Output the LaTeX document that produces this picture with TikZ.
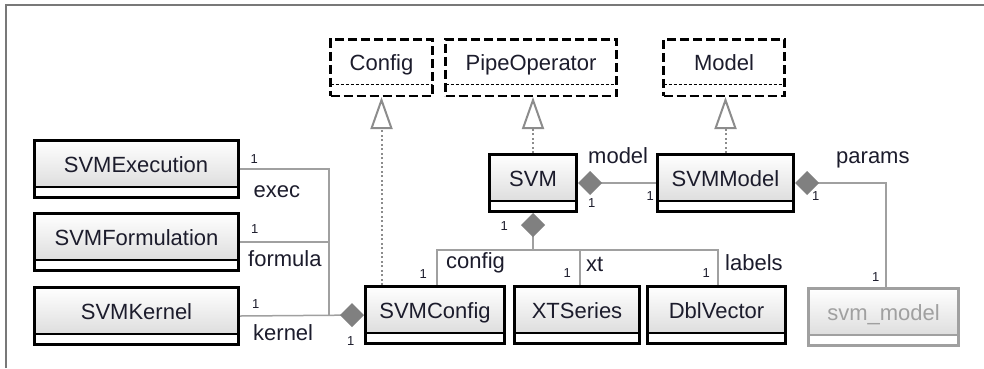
\documentclass[tikz,border=0pt]{standalone}
\usepackage{fontspec}
\setmainfont{Liberation Sans}
\usepackage{tikz}
\usetikzlibrary{arrows.meta}
\usepackage{xcolor}
\definecolor{txt}{RGB}{28,28,44}
\definecolor{lgray}{RGB}{160,160,160}
\definecolor{dgray}{RGB}{140,140,140}
\definecolor{dmd}{RGB}{128,128,128}
\definecolor{frm}{RGB}{120,120,120}
\newcommand{\clsfont}{\fontsize{22}{22}\selectfont}
\newcommand{\multfont}{\fontsize{13}{13}\selectfont}

\begin{document}
\begin{tikzpicture}[x=1pt,y=-1pt,line join=miter,
  cls/.style={draw=black,line width=3pt,inner sep=0pt,text height=31.5pt,text depth=25.5pt,
    top color=white,bottom color=black!16,font=\clsfont,text=txt,
    path picture={
      \fill[white] ([yshift=10.5pt]path picture bounding box.south west) rectangle (path picture bounding box.south east);
      \draw[line width=2pt] ([yshift=10.5pt]path picture bounding box.south west) -- ([yshift=10.5pt]path picture bounding box.south east);
    }},
  ext/.style={cls,draw=lgray,text=lgray},
  iface/.style={draw=black,line width=2.5pt,dash pattern=on 9pt off 4pt,fill=white,inner sep=0pt,
    text height=30.75pt,text depth=25.75pt,font=\clsfont,text=txt,
    path picture={
      \draw[line width=1.2pt,dash pattern=on 3pt off 2pt] ([yshift=11pt]path picture bounding box.south west) -- ([yshift=11pt]path picture bounding box.south east);
    }},
  conn/.style={draw=lgray,line width=1.5pt},
  comp/.style={conn,{Diamond[length=24pt,width=24pt,color=dmd,line width=0pt]}-},
  real/.style={draw=dgray,line width=2pt,dash pattern=on 2pt off 2.5pt,
    -{Triangle[open,length=32pt,width=22pt,line width=2pt]}},
  mult/.style={font=\multfont,text=txt,inner sep=0pt},
  role/.style={font=\clsfont,text=txt,inner sep=0pt,anchor=base west}]
\useasboundingbox (0,0) rectangle (984,368);
\draw[frm,line width=1.5pt] (6,368) |- (984,5);

% interfaces
\node[iface,minimum width=102pt] (config) at (381.5,67.5) {Config};
\node[iface,minimum width=171pt] (pipe) at (531,67.5) {PipeOperator};
\node[iface,minimum width=121pt] (model) at (724,67.5) {Model};

% classes
\node[cls,minimum width=204pt] (exec) at (136,169) {SVMExecution};
\node[cls,minimum width=204pt] (formula) at (136.5,242) {SVMFormulation};
\node[cls,minimum width=204pt] (kernel) at (136.5,316) {SVMKernel};
\node[cls,minimum width=87pt] (svm) at (533,183) {SVM};
\node[cls,minimum width=136pt] (smodel) at (725.5,183) {SVMModel};
\node[cls,minimum width=139pt] (cfg) at (435,315) {SVMConfig};
\node[cls,minimum width=125pt] (xts) at (577,315) {XTSeries};
\node[cls,minimum width=138pt] (dbl) at (716.5,315) {DblVector};
\node[ext,minimum width=150pt] (svmm) at (883.5,317) {svm\_model};

% realizations
\draw[real] (cfg.north -| config.south) -- (config.south);
\draw[real] (svm.north) -- (svm.north |- pipe.south);
\draw[real] (smodel.north) -- (smodel.north |- model.south);

% compositions
\coordinate (bus) at (329,316);
\draw[comp] (cfg.west) -- (kernel.east);
\draw[conn] (exec.east) -| (bus);
\draw[conn] (formula.east) -| (bus);
\draw[comp] (svm.east) -- (smodel.west);
\coordinate (br) at (533,250);
\draw[comp] (svm.south) -- (br);
\draw[conn] (br) -| ([xshift=2pt]cfg.north);
\draw[conn] (br) -| ([xshift=3pt]xts.north);
\draw[conn] (br) -| ([xshift=1.5pt]dbl.north);
\draw[comp] (smodel.east) -| ([xshift=2.5pt]svmm.north);

% roles and multiplicities
\node[mult,anchor=base west] (mexec) at ([shift={(11,-6)}]exec.east) {1};
\node[role] (rexec) at ([shift={(14,28)}]exec.east) {exec};
\node[mult,anchor=base west] (mformula) at ([shift={(11,-9)}]formula.east) {1};
\node[role] (rformula) at ([shift={(8,24)}]formula.east) {formula};
\node[mult,anchor=base west] (mkernel) at ([shift={(12,-8)}]kernel.east) {1};
\node[role] (rkernel) at ([shift={(13,24)}]kernel.east) {kernel};
\node[mult,anchor=base west] (mcfgw) at ([shift={(-17,30)}]cfg.west) {1};
\node[role] (rmodel) at ([shift={(10,-20)}]svm.east) {model};
\node[mult,anchor=base west] (msvme) at ([shift={(10,24)}]svm.east) {1};
\node[mult,anchor=base east] (msmodelw) at ([shift={(-2,17)}]smodel.west) {1};
\node[mult,anchor=base east] (msvms) at ([shift={(-25,17)}]svm.south) {1};
\node[role] (rconfig) at ([shift={(11,-17)}]cfg.north) {config};
\node[mult,anchor=base east] (mcfgn) at ([shift={(-8,-7)}]cfg.north) {1};
\node[role] (rxt) at ([shift={(9,-14)}]xts.north) {xt};
\node[mult,anchor=base east] (mxts) at ([shift={(-6,-8)}]xts.north) {1};
\node[role] (rlabels) at ([shift={(8.5,-15)}]dbl.north) {labels};
\node[mult,anchor=base east] (mdbl) at ([shift={(-6.5,-8)}]dbl.north) {1};
\node[role] (rparams) at ([shift={(41,-20)}]smodel.east) {params};
\node[mult,anchor=base west] (msmodele) at ([shift={(17,17)}]smodel.east) {1};
\node[mult,anchor=base east] (msvmm) at ([shift={(-4,-6)}]svmm.north) {1};
\end{tikzpicture}
\end{document}
